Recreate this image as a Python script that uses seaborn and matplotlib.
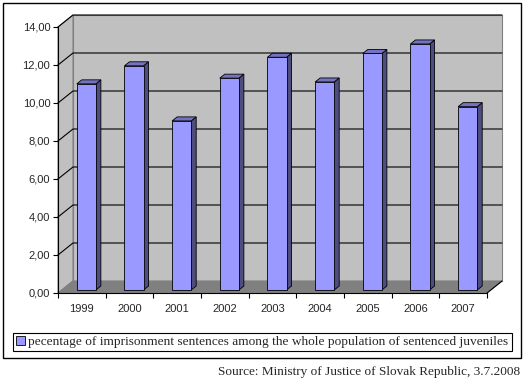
import numpy as np
import pandas as pd
import matplotlib
matplotlib.use("Agg")
import matplotlib.pyplot as plt
from matplotlib.patches import Polygon, Rectangle, Patch
import seaborn as sns

# data
years = ["1999", "2000", "2001", "2002", "2003", "2004", "2005", "2006", "2007"]
shares = [10.85, 11.8, 8.9, 11.15, 12.25, 10.95, 12.45, 12.95, 9.65]
y_ticks = [0, 2, 4, 6, 8, 10, 12, 14]
legend_label = "pecentage of imprisonment sentences among the whole population of sentenced juveniles"
source_note = "Source: Ministry of Justice of Slovak Republic, 3.7.2008"

sns.set_style("white")
plt.rcParams['font.family'] = ['Liberation Sans', 'DejaVu Sans']

W, H = 526, 382
fig = plt.figure(figsize=(W / 100, H / 100), dpi=100)
fig.patch.set_facecolor("white")

# axes = front plane of the 3D box (pixel edges)
x0, x1, y0, y1 = 58, 487, 293, 27
ax = fig.add_axes([x0 / W, 1 - y0 / H, (x1 - x0) / W, (y0 - y1) / H])
ax.set_facecolor("none")

df = pd.DataFrame({"year": years, "share": shares})
sns.barplot(data=df, x="year", y="share", color="#9999ff", saturation=1,
            width=0.4, edgecolor="black", linewidth=0.6, ax=ax, zorder=5)
bars = list(ax.patches)

n = len(years)
ax.set_xlim(-0.5, n - 0.5)
ax.set_ylim(0, 14)

# pixel -> data offsets for the fake depth
ppx = (x1 - x0) / n
ppy = (y0 - y1) / 14


def off(px, py):
    return px / ppx, py / ppy


wx, wy = off(15, 12)     # back wall
bx, by = off(4.5, 3)     # bar front plane
dx, dy = off(5, 4)       # bar depth

left, right = -0.5, n - 0.5
ax.add_patch(Rectangle((left + wx, wy), n, 14, fc="#c0c0c0", ec="#808080",
                       lw=0.8, clip_on=False, zorder=0))
ax.add_patch(Polygon([(left, 0), (left, 14), (left + wx, 14 + wy), (left + wx, wy)],
                     fc="#c0c0c0", ec="#808080", lw=0.8, clip_on=False, zorder=0))
ax.add_patch(Polygon([(left, 0), (right, 0), (right + wx, wy), (left + wx, wy)],
                     fc="#808080", ec="#808080", lw=0.8, clip_on=False, zorder=1))
ax.plot([right, right + wx], [0, wy], color="black", lw=0.8, clip_on=False, zorder=2)

# gridlines on side wall and back wall
for v in y_ticks[1:]:
    ax.plot([left, left + wx, right + wx], [v, v + wy, v + wy], color="black",
            lw=0.8, clip_on=False, zorder=1)

# shift bars into the middle of the depth and add side / top faces
for p in bars:
    x, w, h = p.get_x(), p.get_width(), p.get_height()
    p.set_x(x + bx)
    p.set_y(by)
    p.set_clip_on(False)
    xs, ys = x + bx, by
    ax.add_patch(Polygon([(xs + w, ys), (xs + w, ys + h), (xs + w + dx, ys + h + dy),
                          (xs + w + dx, ys + dy)], fc="#4d4d80", ec="black", lw=0.6,
                         clip_on=False, zorder=4))
    ax.add_patch(Polygon([(xs, ys + h), (xs + w, ys + h), (xs + w + dx, ys + h + dy),
                          (xs + dx, ys + h + dy)], fc="#7373c0", ec="black", lw=0.6,
                         clip_on=False, zorder=4))

ax.set_yticks(y_ticks, labels=[f"{v:.2f}".replace(".", ",") for v in y_ticks])
ax.set_xticks(np.arange(n + 1) - 0.5, labels=[""] * (n + 1))
ax.set_xticks(np.arange(n), labels=years, minor=True)
ax.tick_params(axis="y", direction="out", length=3.6, width=0.8, pad=2,
               labelsize=8, left=True, color="black")
ax.tick_params(axis="x", which="major", direction="out", length=3.6, width=0.8,
               bottom=True, color="black")
ax.tick_params(axis="x", which="minor", length=0, labelsize=8, pad=8)
ax.set_xlabel("")
ax.set_ylabel("")
for s in ["top", "right"]:
    ax.spines[s].set_visible(False)
for s in ["left", "bottom"]:
    ax.spines[s].set_color("black")
    ax.spines[s].set_linewidth(0.8)
    ax.spines[s].set_zorder(6)

# outer chart border
fig.add_artist(Rectangle((3 / W, 1 - 358 / H), 518 / W, 355 / H,
                         transform=fig.transFigure, fill=False, ec="black", lw=1))

leg = fig.legend(handles=[Patch(fc="#9999ff", ec="black", lw=0.6)], labels=[legend_label],
                 loc="center", bbox_to_anchor=(262.5 / W, 1 - 342 / H),
                 prop={"family": "Liberation Serif", "size": 9.6}, frameon=True,
                 fancybox=False, edgecolor="black", framealpha=1,
                 handlelength=0.65, handleheight=0.65, handletextpad=0.25, borderpad=0.25)
leg.get_frame().set_linewidth(0.8)

fig.text(520 / W, 1 - 372 / H, source_note, ha="right", va="center",
         family="Liberation Serif", size=9.5)

fig.savefig("out.png", dpi=100)
